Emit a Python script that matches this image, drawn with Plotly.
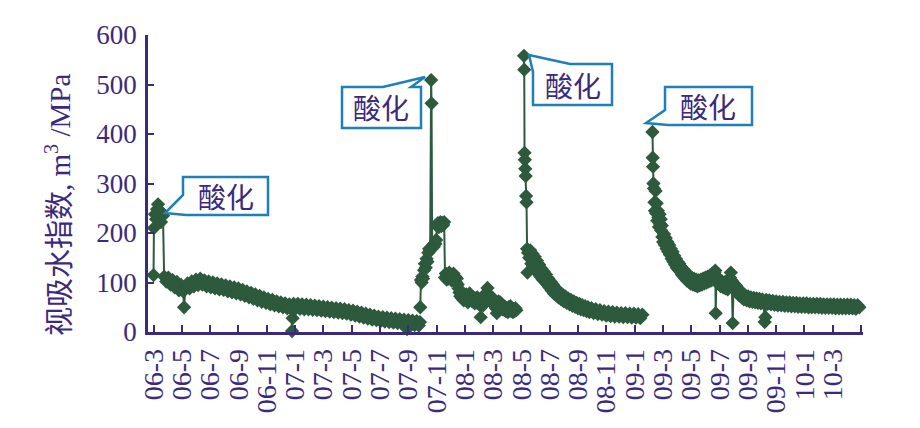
import plotly.graph_objects as go

# x = months since 2006-03 ; y = apparent injectivity index (m3/MPa)
seg1_x = [0.00, 0.03, 0.10, 0.18, 0.25, 0.32, 0.39, 0.46, 0.53, 0.60, 0.67,
          0.75, 0.90, 1.05, 1.20, 1.35, 1.50, 1.65, 1.80, 1.95, 2.10, 2.16, 2.25, 2.40, 2.55, 2.70,
          2.85, 3.00, 3.15, 3.30, 3.45, 3.60, 3.75, 3.90, 4.05, 4.20, 4.35, 4.50, 4.65, 4.80, 4.95,
          5.10, 5.25, 5.40, 5.55, 5.70, 5.85, 6.00, 6.15, 6.30, 6.45, 6.60, 6.75, 6.90, 7.05, 7.20,
          7.35, 7.50, 7.65, 7.80, 7.95, 8.10, 8.25, 8.40, 8.55, 8.70, 8.85, 9.00, 9.15, 9.30, 9.45,
          9.60, 9.75, 9.79, 9.83, 9.90, 10.05, 10.20, 10.35, 10.50, 10.65, 10.80, 10.95, 11.10, 11.25,
          11.40, 11.55, 11.70, 11.85, 12.00, 12.15, 12.30, 12.45, 12.60, 12.75, 12.90, 13.05, 13.20,
          13.35, 13.50, 13.65, 13.80, 13.95, 14.10, 14.25, 14.40, 14.55, 14.70, 14.85, 15.00, 15.15,
          15.30, 15.45, 15.60, 15.75, 15.90, 16.05, 16.20, 16.35, 16.50, 16.65, 16.80, 16.95, 17.10,
          17.25, 17.40, 17.55, 17.70, 17.85, 17.92, 18.00, 18.15, 18.30, 18.45, 18.60, 18.75, 18.83]
seg1_y = [115, 210, 238, 228, 248, 258, 232, 245, 222, 240, 235,
          112, 102, 110, 96, 105, 90, 101, 84, 95, 82, 50, 88, 98, 88, 102,
          92, 106, 95, 108, 96, 104, 92, 102, 90, 100, 88, 98, 86, 96, 85,
          94, 82, 92, 80, 90, 78, 88, 76, 85, 73, 82, 70, 79, 67, 76,
          64, 73, 61, 70, 59, 67, 56, 65, 54, 62, 52, 60, 50, 58, 48,
          56, 47, 2, 28, 57, 48, 57, 47, 56, 46, 55, 46, 54, 45,
          53, 44, 52, 43, 51, 42, 50, 41, 49, 40, 48, 39, 47,
          38, 46, 37, 44, 35, 43, 33, 41, 31, 39, 29, 37, 27,
          35, 25, 33, 24, 31, 22, 30, 21, 29, 20, 28, 19, 27,
          18, 26, 17, 25, 16, 6, 24, 15, 23, 14, 22, 13, 20]

seg2_x = [18.85, 18.90, 18.95, 19.00, 19.05, 19.12, 19.18, 19.24, 19.30, 19.36, 19.42, 19.48, 19.55,
          19.62, 19.65, 19.69, 19.74, 19.80, 19.86, 19.92, 19.98, 20.04, 20.10, 20.16, 20.22, 20.28,
          20.34, 20.40, 20.47, 20.54, 20.60, 20.66, 20.72, 20.78, 20.84, 20.90, 20.96, 21.02, 21.08,
          21.14, 21.20, 21.26, 21.32, 21.38, 21.44, 21.50, 21.56, 21.62, 21.68, 21.74, 21.80, 21.86,
          21.92, 21.98, 22.04, 22.10, 22.16, 22.22, 22.28, 22.34, 22.40, 22.46, 22.52, 22.58, 22.64,
          22.70, 22.76, 22.82, 22.88, 22.94, 23.00, 23.06, 23.12, 23.18, 23.24, 23.30, 23.36, 23.42,
          23.48, 23.54, 23.60, 23.66, 23.72, 23.78, 23.84, 23.90, 23.96, 24.02, 24.08, 24.14, 24.20,
          24.26, 24.32, 24.38, 24.44, 24.50, 24.56, 24.62, 24.68, 24.74, 24.80, 24.86, 24.92, 24.98,
          25.04, 25.10, 25.16, 25.22, 25.28, 25.34, 25.40, 25.46, 25.52, 25.58, 25.64]
seg2_y = [50, 105, 100, 112, 108, 125, 138, 130, 148, 142, 160, 168, 165,
          509, 462, 170, 175, 172, 180, 178, 186, 214, 220, 212, 218, 222,
          214, 220, 216, 222, 110, 118, 106, 114, 108, 120, 110, 116, 104,
          112, 118, 106, 112, 100, 108, 96, 88, 80, 72, 78, 68, 74,
          64, 72, 66, 76, 68, 60, 70, 78, 66, 72, 62, 70, 64,
          58, 68, 60, 70, 62, 56, 66, 30, 58, 64, 54, 62, 72,
          66, 80, 89, 76, 68, 74, 62, 70, 58, 66, 54, 62, 48,
          38, 56, 62, 52, 60, 48, 56, 46, 52, 44, 50, 42, 48,
          40, 50, 44, 52, 42, 48, 40, 46, 42, 48, 44]

seg3_x = [26.18, 26.20, 26.22, 26.24, 26.27, 26.30, 26.33, 26.36, 26.40, 26.43, 26.47, 26.55, 26.62,
          26.70, 26.78, 26.86, 26.94, 27.02, 27.10, 27.18, 27.26, 27.34, 27.42, 27.50, 27.58, 27.66,
          27.74, 27.82, 27.90, 27.98, 28.06, 28.14, 28.22, 28.30, 28.38, 28.46, 28.54, 28.62, 28.70,
          28.80, 28.90, 29.00, 29.10, 29.20, 29.30, 29.40, 29.50, 29.60, 29.70, 29.80, 29.90, 30.00,
          30.10, 30.20, 30.30, 30.40, 30.50, 30.60, 30.70, 30.80, 30.95, 31.10, 31.25, 31.40, 31.55,
          31.70, 31.85, 32.00, 32.15, 32.30, 32.45, 32.60, 32.75, 32.90, 33.05, 33.20, 33.35, 33.50,
          33.65, 33.80, 33.95, 34.10, 34.25, 34.40, 34.55]
seg3_y = [558, 530, 362, 348, 330, 315, 275, 262, 168, 120, 160, 150, 165,
          138, 158, 133, 152, 126, 144, 118, 136, 112, 128, 106, 122, 102,
          116, 96, 108, 90, 102, 84, 96, 78, 90, 74, 84, 70, 80,
          66, 76, 62, 72, 59, 68, 56, 65, 53, 62, 51, 59, 48,
          57, 46, 54, 44, 52, 42, 50, 40, 48, 38, 46, 36, 44,
          35, 42, 33, 41, 32, 40, 31, 39, 31, 38, 30, 38, 30,
          37, 29, 37, 29, 36, 28, 35]

seg4_x = [35.26, 35.28, 35.30, 35.33, 35.37, 35.40, 35.44, 35.48, 35.52, 35.56, 35.60, 35.64, 35.68,
          35.72, 35.76, 35.80, 35.84, 35.88, 35.92, 35.96, 36.02, 36.08, 36.14, 36.20, 36.26, 36.32,
          36.38, 36.44, 36.50, 36.56, 36.62, 36.68, 36.74, 36.80, 36.86, 36.92, 36.98, 37.04, 37.10,
          37.16, 37.22, 37.28, 37.34, 37.40, 37.46, 37.52, 37.58, 37.64, 37.70, 37.76, 37.82, 37.88,
          37.96, 38.04, 38.12, 38.20, 38.28, 38.36, 38.44, 38.52, 38.60, 38.68, 38.76, 38.84, 38.92,
          39.00, 39.08, 39.16, 39.24, 39.32, 39.40, 39.48, 39.56, 39.64, 39.70, 39.73, 39.78, 39.86,
          39.94, 40.02, 40.10, 40.18, 40.26, 40.34, 40.42, 40.50, 40.58, 40.66, 40.74, 40.80, 40.86,
          40.93, 41.00, 41.08, 41.16, 41.24, 41.32, 41.40, 41.48, 41.56, 41.64, 41.72, 41.82, 41.92,
          42.02, 42.12, 42.22, 42.32, 42.42, 42.52, 42.62, 42.72, 42.82, 42.92, 43.02, 43.12, 43.19,
          43.24, 43.30, 43.40, 43.52, 43.64, 43.76, 43.88, 44.00, 44.12, 44.24, 44.36, 44.48, 44.60,
          44.72, 44.84, 44.96, 45.08, 45.20, 45.32, 45.44, 45.56, 45.68, 45.80, 45.92, 46.04, 46.16,
          46.28, 46.40, 46.52, 46.64, 46.76, 46.88, 47.00, 47.12, 47.24, 47.36, 47.48, 47.60, 47.72,
          47.84, 47.96, 48.08, 48.20, 48.32, 48.44, 48.56, 48.68, 48.80, 48.92, 49.04, 49.16, 49.28,
          49.40, 49.52, 49.64, 49.76, 49.88]
seg4_y = [404, 352, 334, 300, 290, 262, 245, 285, 240, 260, 225, 245, 232,
          212, 238, 218, 228, 205, 215, 192, 182, 198, 176, 190, 168, 182,
          162, 176, 156, 168, 148, 162, 142, 154, 136, 148, 130, 142, 126,
          138, 122, 132, 116, 128, 112, 124, 108, 120, 104, 116, 102, 112,
          98, 110, 96, 108, 94, 106, 92, 104, 94, 106, 96, 108, 98,
          110, 100, 112, 102, 114, 104, 118, 106, 120, 124, 38, 112, 100,
          98, 106, 92, 102, 90, 100, 88, 98, 86, 96, 110, 120, 104,
          18, 98, 86, 94, 80, 88, 74, 82, 70, 78, 66, 74, 64,
          72, 62, 70, 61, 69, 60, 68, 59, 67, 58, 66, 58, 20,
          30, 65, 57, 64, 56, 63, 55, 62, 54, 61, 54, 61, 53,
          60, 53, 60, 52, 59, 52, 59, 51, 58, 51, 58, 51, 58,
          50, 57, 50, 57, 50, 57, 50, 57, 49, 56, 49, 56, 49,
          56, 49, 56, 48, 55, 48, 55, 48, 55, 48, 55, 48, 55,
          48, 54, 47, 54, 50]

tick_vals = [0, 2, 4, 6, 8, 10, 12, 14, 16, 18, 20, 22, 24, 26, 28, 30, 32, 34, 36, 38, 40, 42, 44, 46, 48]
tick_text = ["06-3", "06-5", "06-7", "06-9", "06-11", "07-1", "07-3", "07-5", "07-7", "07-9", "07-11",
             "08-1", "08-3", "08-5", "08-7", "08-9", "08-11", "09-1", "09-3", "09-5", "09-7", "09-9",
             "09-11", "10-1", "10-3"]
end_tick = [50]
y_ticks = [0, 100, 200, 300, 400, 500, 600]
callout_text = "酸化"

xs, ys = [], []
for sx, sy in [(seg1_x, seg1_y), (seg2_x, seg2_y), (seg3_x, seg3_y), (seg4_x, seg4_y)]:
    xs += sx + [None]
    ys += sy + [None]

GREEN = "#2d5a3c"
PURPLE = "#3b2a7c"
BLUE = "#1f7fb8"

fig = go.Figure()
fig.add_trace(go.Scatter(
    x=xs, y=ys, mode="lines+markers", connectgaps=False, cliponaxis=False,
    line=dict(color=GREEN, width=2),
    marker=dict(symbol="diamond", size=11, color=GREEN),
    showlegend=False, hoverinfo="skip"))

# plot area in page pixels (page has an 8px body margin)
OFF = 8
L, R, T, B = 148, 863, 35, 332
W, H = R - L, B - T

def px(xp):
    return (xp - L) / W

def py(yp):
    return (B - yp) / H

def path(points):
    return "M " + " L ".join(f"{px(a):.5f},{py(b):.5f}" for a, b in points) + " Z"

callouts = [
    ([(183, 177), (268, 177), (268, 215), (186, 215), (165, 213), (183, 195)], (226, 196)),
    ([(342, 87), (383, 87), (425, 77), (411, 87), (421, 87), (421, 128), (342, 128)], (381, 107)),
    ([(529, 55), (570, 64), (612, 64), (612, 105), (533, 105), (533, 72)], (573, 85)),
    ([(665, 87), (752, 87), (752, 125), (668, 125), (646, 123), (665, 110)], (708, 106)),
]
shapes = []
annotations = []
for poly, (cx, cy) in callouts:
    shapes.append(dict(type="path", xref="paper", yref="paper", path=path(poly),
                       line=dict(color=BLUE, width=2.5), fillcolor="white", layer="above"))
    annotations.append(dict(xref="paper", yref="paper", x=px(cx), y=py(cy), text=callout_text,
                            showarrow=False, xanchor="center", yanchor="middle",
                            font=dict(family="Noto Sans CJK SC", size=28, color=PURPLE)))

annotations.append(dict(xref="paper", yref="paper", x=px(58), y=py(205), textangle=-90,
                        text="视吸水指数, m<sup>3</sup> /MPa", showarrow=False,
                        xanchor="center", yanchor="middle",
                        font=dict(family="Liberation Serif, Noto Sans CJK SC", size=29, color=PURPLE)))

fig.update_layout(
    width=920 - OFF, height=428 - OFF,
    margin=dict(l=L - OFF, r=920 - R, t=T - OFF, b=428 - B, pad=0),
    paper_bgcolor="white", plot_bgcolor="white",
    shapes=shapes, annotations=annotations,
    xaxis=dict(range=[-0.39, 50.14], tickmode="array", tickvals=tick_vals, ticktext=tick_text,
               tickangle=-90, ticks="inside", ticklen=7, tickwidth=2, tickcolor=PURPLE,
               ticklabelstandoff=3,
               minor=dict(tickmode="array", tickvals=end_tick, ticks="inside", ticklen=7,
                          tickwidth=2, tickcolor=PURPLE),
               showline=True, linecolor=PURPLE, linewidth=2.5, showgrid=False, zeroline=False,
               tickfont=dict(family="Liberation Serif", size=28, color=PURPLE)),
    yaxis=dict(range=[0, 600], tickmode="array", tickvals=y_ticks,
               ticks="inside", ticklen=6, tickwidth=2, tickcolor=PURPLE,
               ticklabelstandoff=3,
               showline=True, linecolor=PURPLE, linewidth=2.5, showgrid=False, zeroline=False,
               tickfont=dict(family="Liberation Serif", size=27, color=PURPLE)),
)

fig.write_html("out.html")
